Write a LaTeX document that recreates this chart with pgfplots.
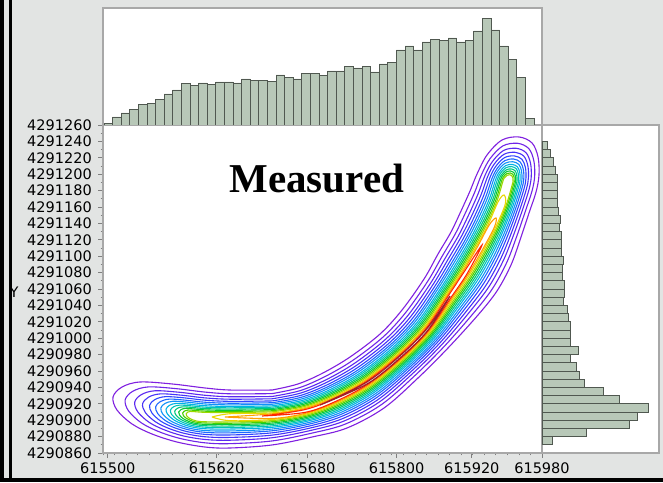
\documentclass[border=0pt]{standalone}
\usepackage{pgfplots}
\pgfplotsset{compat=1.18}
\usepackage{fontspec}
\setmainfont{DejaVu Sans}
\newfontfamily\titlefont{Liberation Serif}
\definecolor{bg}{RGB}{226,228,227}
\definecolor{histfill}{RGB}{184,200,184}
\definecolor{histdraw}{RGB}{80,88,80}
\definecolor{boxgray}{RGB}{168,168,168}
\definecolor{r1}{RGB}{128,32,224}
\definecolor{r2}{RGB}{112,36,232}
\definecolor{r3}{RGB}{92,40,240}
\definecolor{r4}{RGB}{70,50,248}
\definecolor{r5}{RGB}{48,70,255}
\definecolor{r6}{RGB}{30,105,255}
\definecolor{r7}{RGB}{16,145,248}
\definecolor{r8}{RGB}{0,178,228}
\definecolor{r9}{RGB}{0,196,185}
\definecolor{r10}{RGB}{0,200,125}
\definecolor{r11}{RGB}{10,200,55}
\definecolor{r12}{RGB}{70,208,0}
\definecolor{r13}{RGB}{155,215,0}
\definecolor{r14}{RGB}{232,215,0}
\definecolor{r15}{RGB}{255,160,0}
\definecolor{r16}{RGB}{255,40,0}
\definecolor{r17}{RGB}{160,30,40}
\pgfplotsset{ring/.style={smooth, tension=0.55, line width=1.1pt}}
\begin{document}
\begin{tikzpicture}
\fill[bg] (0pt,0pt) rectangle (663pt,482pt);
\fill[black] (0pt,0pt) rectangle (4pt,482pt);
\fill[black] (9pt,0pt) rectangle (12pt,482pt);
\fill[black] (0pt,0pt) rectangle (663pt,4pt);
\useasboundingbox (0pt,0pt) rectangle (663pt,482pt);

% main contour plot
\begin{axis}[
  at={(103pt,29pt)}, anchor=south west, scale only axis,
  width=439pt, height=328pt,
  xmin=615500, xmax=616048.75, ymin=4290860, ymax=4291260,
  axis background/.style={fill=white},
  axis line style={draw=boxgray, line width=1.2pt},
  tick align=outside, major tick length=5pt, minor tick length=2.5pt,
  tick style={draw=gray, line width=0.7pt},
  tick pos=left,
  xtick={615506,615642,615756,615867,615961,616048.75},
  xticklabels={615500,615620,615680,615800,615920,615980},
  minor xtick={615500,615514.44,615528.88,615543.32,615557.76,615572.2,615586.64,615601.08,615615.52,615629.96,615644.4,615658.84,615673.28,615687.72,615702.16,615716.6,615731.04,615745.48,615759.92,615774.36,615788.8,615803.24,615817.68,615832.12,615846.56,615861,615875.44,615889.88,615904.32,615918.76,615933.2,615947.64,615962.08,615976.52,615990.96,616005.4,616019.84,616034.28,616048.72},
  ytick={4290860,4290880,4290900,4290920,4290940,4290960,4290980,4291000,4291020,4291040,4291060,4291080,4291100,4291120,4291140,4291160,4291180,4291200,4291220,4291240,4291260},
  minor y tick num=1,
  scaled ticks=false,
  /pgf/number format/.cd, fixed, 1000 sep={}, precision=0, assume math mode=true, /pgfplots/.cd,
  tick label style={font=\fontsize{14.5}{16}\selectfont},
  yticklabel style={anchor=east, inner sep=1pt, xshift=-5pt},
  xticklabel style={anchor=north, inner sep=1pt, yshift=-4pt},
  ylabel={Y},
  every axis y label/.style={at={(rel axis cs:0,0.49)}, anchor=center, xshift=-89pt, font=\fontsize{14.5}{16}\selectfont},
  clip=true,
]
\addplot[ring, r1] coordinates {(615711.3,4290936.8) (615743.8,4290944.2) (615775,4290957.6) (615808.8,4290977.1) (615846.3,4291005.1) (615873.8,4291034.4) (615901.3,4291072.2) (615918.8,4291102.7) (615935,4291129.5) (615947.5,4291155.1) (615958.8,4291179.5) (615967.5,4291200.2) (615980,4291223.4) (615998.8,4291241.7) (616020,4291245.4) (616036.3,4291238.1) (616043.8,4291221) (616045,4291199) (616041.3,4291178.3) (616032.5,4291152.7) (616021.3,4291119.8) (616010,4291089.3) (615992.5,4291057.6) (615968.8,4291028.3) (615931.3,4290988.1) (615893.8,4290951.5) (615851.3,4290914.9) (615805,4290890.5) (615761.3,4290879.5) (615711.3,4290869.8) (615658.8,4290866.1) (615627.5,4290867.3) (615592.5,4290873.4) (615561.3,4290883.2) (615536.3,4290895.4) (615517.5,4290912.4) (615512.5,4290928.3) (615523.8,4290940.5) (615546.3,4290946.6) (615586.3,4290944.2) (615627.5,4290939.3) (615658.8,4290936.8) (615711.3,4290936.8)};
\addplot[ring, r2] coordinates {(615711.3,4290932.4) (615745,4290939.5) (615777.1,4290953) (615811.7,4290972.6) (615849.8,4291001.2) (615878.1,4291031) (615905.8,4291069.3) (615923.7,4291099.6) (615940.1,4291126.8) (615952.9,4291152.6) (615964.4,4291177.5) (615972.9,4291198.9) (615983.7,4291218.8) (615999.8,4291234.5) (616018.1,4291237.7) (616032.1,4291231.4) (616038.5,4291216.7) (616039.6,4291197.8) (616036.4,4291180) (616027.8,4291154.4) (616016.4,4291122.1) (616004.6,4291092.2) (615987.1,4291060.8) (615963.9,4291031.5) (615927.6,4290991.1) (615890.6,4290955.1) (615848.3,4290919.2) (615802.9,4290895.3) (615760,4290884) (615711.3,4290874.7) (615658.8,4290871.4) (615627.5,4290872.4) (615596.5,4290877.7) (615569.7,4290886.1) (615548.2,4290896.6) (615532,4290911.2) (615527.7,4290924.9) (615537.4,4290935.4) (615556.8,4290940.6) (615591.2,4290938.5) (615627.5,4290934.3) (615658.8,4290932.2) (615711.3,4290932.4)};
\addplot[ring, r3] coordinates {(615711.3,4290928.9) (615745.9,4290935.9) (615778.8,4290949.3) (615814.1,4290969.2) (615852.5,4290998.1) (615881.6,4291028.3) (615909.4,4291067) (615927.5,4291097.2) (615944.1,4291124.6) (615957.2,4291150.6) (615968.8,4291175.9) (615977.2,4291197.8) (615986.6,4291215.2) (616000.6,4291228.9) (616016.6,4291231.6) (616028.8,4291226.2) (616034.4,4291213.4) (616035.3,4291196.9) (616032.5,4291181.3) (616024.1,4291155.7) (616012.5,4291124) (616000.3,4291094.5) (615982.8,4291063.4) (615960,4291034.1) (615924.7,4290993.5) (615888.1,4290957.9) (615845.9,4290922.5) (615801.3,4290899) (615759.1,4290887.4) (615711.3,4290878.6) (615658.8,4290875.6) (615627.5,4290876.5) (615599.7,4290881) (615576.3,4290888.4) (615557.5,4290897.5) (615543.4,4290910.3) (615539.7,4290922.2) (615548.1,4290931.3) (615565,4290935.9) (615595,4290934.1) (615627.5,4290930.4) (615658.8,4290928.6) (615711.3,4290928.9)};
\addplot[ring, r4] coordinates {(615711.3,4290926.1) (615746.7,4290933) (615780.1,4290946.4) (615816,4290966.3) (615854.8,4290995.6) (615884.4,4291026.1) (615912.3,4291065.1) (615930.7,4291095.2) (615947.3,4291122.9) (615960.7,4291148.9) (615972.4,4291174.5) (615980.7,4291196.9) (615988.9,4291212.2) (616001.3,4291224.3) (616015.3,4291226.7) (616026.1,4291221.9) (616031,4291210.6) (616031.8,4291196.1) (616029.4,4291182.4) (616021,4291156.8) (616009.4,4291125.6) (615996.8,4291096.3) (615979.3,4291065.4) (615956.9,4291036.2) (615922.3,4290995.5) (615886.1,4290960.2) (615844,4290925.3) (615799.9,4290902.1) (615758.3,4290890.3) (615711.3,4290881.8) (615658.8,4290879) (615627.5,4290879.8) (615602.3,4290883.8) (615581.7,4290890.2) (615565.2,4290898.3) (615552.8,4290909.5) (615549.5,4290920) (615556.9,4290928.1) (615571.8,4290932.1) (615598.2,4290930.5) (615627.5,4290927.2) (615658.8,4290925.6) (615711.3,4290926.1)};
\addplot[ring, r5] coordinates {(615711.3,4290923.5) (615747.4,4290930.3) (615781.3,4290943.7) (615817.7,4290963.8) (615856.8,4290993.3) (615886.9,4291024.2) (615914.9,4291063.5) (615933.5,4291093.5) (615950.2,4291121.3) (615963.8,4291147.4) (615975.6,4291173.4) (615983.8,4291196.2) (615991,4291209.6) (616001.9,4291220.2) (616014.2,4291222.3) (616023.7,4291218.1) (616028,4291208.2) (616028.7,4291195.4) (616026.6,4291183.4) (616018.3,4291157.8) (616006.6,4291126.9) (615993.7,4291098) (615976.2,4291067.3) (615954.1,4291038) (615920.2,4290997.3) (615884.3,4290962.2) (615842.3,4290927.7) (615798.7,4290904.8) (615757.6,4290892.8) (615711.3,4290884.6) (615658.8,4290882) (615627.5,4290882.7) (615604.6,4290886.2) (615586.5,4290891.9) (615572,4290899) (615561.1,4290908.9) (615558.2,4290918.1) (615564.7,4290925.1) (615577.8,4290928.7) (615601,4290927.3) (615627.5,4290924.4) (615658.8,4290923) (615711.3,4290923.5)};
\addplot[ring, r6] coordinates {(615711.3,4290921.3) (615748,4290928) (615782.4,4290941.4) (615819.2,4290961.5) (615858.5,4290991.4) (615889.1,4291022.4) (615917.2,4291062) (615935.9,4291091.9) (615952.8,4291120) (615966.5,4291146.2) (615978.4,4291172.3) (615986.5,4291195.5) (615992.9,4291207.3) (616002.4,4291216.6) (616013.3,4291218.5) (616021.6,4291214.8) (616025.4,4291206) (616026,4291194.8) (616024.1,4291184.3) (616016,4291158.7) (616004.1,4291128.1) (615991,4291099.4) (615973.5,4291068.9) (615951.6,4291039.6) (615918.4,4290998.8) (615882.7,4290964) (615840.8,4290929.8) (615797.7,4290907.2) (615757,4290895.1) (615711.3,4290887.1) (615658.8,4290884.6) (615627.5,4290885.2) (615606.6,4290888.4) (615590.7,4290893.3) (615577.9,4290899.6) (615568.3,4290908.3) (615565.8,4290916.3) (615571.5,4290922.6) (615583,4290925.7) (615603.4,4290924.4) (615627.5,4290921.9) (615658.8,4290920.7) (615711.3,4290921.3)};
\addplot[ring, r7] coordinates {(615711.3,4290919.4) (615748.6,4290926) (615783.3,4290939.5) (615820.4,4290959.6) (615860,4290989.7) (615890.9,4291021) (615919.1,4291060.8) (615938,4291090.6) (615954.9,4291118.8) (615968.8,4291145.1) (615980.8,4291171.5) (615988.8,4291194.9) (615994.4,4291205.3) (616002.9,4291213.5) (616012.4,4291215.2) (616019.8,4291211.9) (616023.1,4291204.2) (616023.7,4291194.3) (616022,4291185) (616013.9,4291159.4) (616002,4291129.1) (615988.7,4291100.7) (615971.2,4291070.3) (615949.5,4291041) (615916.8,4291000.1) (615881.4,4290965.6) (615839.6,4290931.7) (615796.8,4290909.3) (615756.4,4290897) (615711.3,4290889.2) (615658.8,4290886.9) (615627.5,4290887.4) (615608.3,4290890.2) (615594.3,4290894.6) (615583,4290900.1) (615574.6,4290907.7) (615572.3,4290914.9) (615577.4,4290920.4) (615587.5,4290923.1) (615605.5,4290922) (615627.5,4290919.8) (615658.8,4290918.7) (615711.3,4290919.4)};
\addplot[ring, r8] coordinates {(615711.3,4290917.5) (615749.1,4290924.1) (615784.2,4290937.5) (615821.7,4290957.7) (615861.5,4290988) (615892.8,4291019.5) (615921.1,4291059.5) (615940.1,4291089.3) (615957.1,4291117.6) (615971.1,4291144) (615983.2,4291170.6) (615991.1,4291194.3) (615996,4291203.3) (616003.3,4291210.5) (616011.6,4291211.9) (616018,4291209) (616020.9,4291202.4) (616021.4,4291193.8) (616019.9,4291185.7) (616011.9,4291160.1) (615999.9,4291130.2) (615986.4,4291101.9) (615968.9,4291071.7) (615947.4,4291042.4) (615915.2,4291001.4) (615880,4290967.1) (615838.3,4290933.5) (615795.9,4290911.3) (615755.9,4290898.9) (615711.3,4290891.3) (615658.8,4290889.2) (615627.5,4290889.6) (615610,4290892) (615597.9,4290895.8) (615588.1,4290900.6) (615580.8,4290907.2) (615578.8,4290913.4) (615583.2,4290918.2) (615592,4290920.6) (615607.6,4290919.6) (615627.5,4290917.7) (615658.8,4290916.7) (615711.3,4290917.5)};
\addplot[ring, r9] coordinates {(615711.3,4290915.9) (615749.5,4290922.4) (615784.9,4290935.8) (615822.8,4290956.2) (615862.8,4290986.6) (615894.4,4291018.3) (615922.7,4291058.5) (615941.9,4291088.2) (615958.9,4291116.6) (615973.1,4291143.1) (615985.2,4291169.9) (615993.1,4291193.8) (615997.3,4291201.7) (616003.7,4291207.9) (616010.9,4291209.2) (616016.5,4291206.7) (616019,4291200.9) (616019.4,4291193.4) (616018.2,4291186.3) (616010.2,4291160.7) (615998.2,4291131) (615984.4,4291103) (615966.9,4291072.9) (615945.7,4291043.6) (615913.9,4291002.5) (615878.9,4290968.4) (615837.2,4290935) (615795.1,4290913) (615755.5,4290900.4) (615711.3,4290893.1) (615658.8,4290891.1) (615627.5,4290891.5) (615611.5,4290893.5) (615600.9,4290896.9) (615592.4,4290901) (615586,4290906.8) (615584.3,4290912.2) (615588.1,4290916.3) (615595.8,4290918.4) (615609.4,4290917.6) (615627.5,4290915.9) (615658.8,4290915.1) (615711.3,4290915.9)};
\addplot[ring, r10] coordinates {(615711.3,4290914.3) (615750,4290920.8) (615785.7,4290934.2) (615823.8,4290954.6) (615864,4290985.2) (615895.9,4291017.1) (615924.3,4291057.5) (615943.6,4291087.1) (615960.7,4291115.7) (615975,4291142.1) (615987.2,4291169.1) (615995,4291193.3) (615998.6,4291200) (616004.1,4291205.3) (616010.2,4291206.4) (616015,4291204.3) (616017.1,4291199.3) (616017.5,4291193) (616016.4,4291187) (616008.5,4291161.3) (615996.4,4291131.9) (615982.5,4291104) (615965,4291074) (615943.9,4291044.7) (615912.6,4291003.6) (615877.8,4290969.6) (615836.2,4290936.5) (615794.4,4290914.7) (615755,4290902) (615711.3,4290894.9) (615658.8,4290892.9) (615627.5,4290893.3) (615612.9,4290895.1) (615603.9,4290897.9) (615596.6,4290901.4) (615591.2,4290906.4) (615589.7,4290911) (615593,4290914.5) (615599.5,4290916.3) (615611.1,4290915.6) (615627.5,4290914.2) (615658.8,4290913.5) (615711.3,4290914.3)};
\addplot[ring, r11] coordinates {(615711.3,4290912.9) (615750.4,4290919.3) (615786.3,4290932.7) (615824.8,4290953.1) (615865.1,4290983.9) (615897.3,4291016) (615925.8,4291056.5) (615945.2,4291086.1) (615962.4,4291114.8) (615976.8,4291141.3) (615989,4291168.5) (615996.8,4291192.9) (615999.8,4291198.6) (616004.4,4291203) (616009.6,4291203.9) (616013.6,4291202.1) (616015.4,4291198) (616015.7,4291192.6) (616014.8,4291187.5) (616007,4291161.9) (615994.8,4291132.7) (615980.7,4291104.9) (615963.2,4291075.1) (615942.3,4291045.8) (615911.4,4291004.6) (615876.8,4290970.8) (615835.2,4290937.9) (615793.7,4290916.3) (615754.6,4290903.5) (615711.3,4290896.5) (615658.8,4290894.6) (615627.5,4290894.9) (615614.2,4290896.4) (615606.6,4290898.8) (615600.4,4290901.8) (615595.8,4290906) (615594.6,4290909.9) (615597.4,4290912.9) (615602.9,4290914.4) (615612.7,4290913.8) (615627.5,4290912.6) (615658.8,4290912) (615711.3,4290912.9)};
\addplot[ring, r12] coordinates {(615711.3,4290911.5) (615750.8,4290917.8) (615787,4290931.2) (615825.8,4290951.7) (615866.3,4290982.7) (615898.8,4291014.9) (615927.3,4291055.6) (615946.8,4291085.1) (615964,4291113.9) (615978.5,4291140.5) (615990.8,4291167.8) (615998.5,4291192.4) (616001,4291197.1) (616004.8,4291200.7) (616009,4291201.5) (616012.3,4291200) (616013.8,4291196.6) (616014,4291192.2) (616013.3,4291188.1) (616005.5,4291162.4) (615993.3,4291133.4) (615979,4291105.9) (615961.5,4291076.1) (615940.8,4291046.8) (615910.3,4291005.6) (615875.8,4290972) (615834.3,4290939.3) (615793,4290917.8) (615754.3,4290904.9) (615711.3,4290898.1) (615658.8,4290896.3) (615627.5,4290896.6) (615615.5,4290897.8) (615609.3,4290899.8) (615604.3,4290902.2) (615600.5,4290905.6) (615599.5,4290908.8) (615601.8,4290911.2) (615606.3,4290912.4) (615614.3,4290912) (615627.5,4290911) (615658.8,4290910.5) (615711.3,4290911.5)};
\addplot[ring, r13] coordinates {(615711.3,4290910.2) (615751.1,4290916.5) (615787.6,4290929.9) (615826.6,4290950.4) (615867.3,4290981.6) (615900,4291013.9) (615928.6,4291054.8) (615948.2,4291084.2) (615965.5,4291113.1) (615980.1,4291139.8) (615992.4,4291167.2) (616000.1,4291192.1) (616002.1,4291195.8) (616005.1,4291198.7) (616008.5,4291199.3) (616011.1,4291198.1) (616012.3,4291195.4) (616012.5,4291191.9) (616011.9,4291188.5) (616004.2,4291162.9) (615991.9,4291134.1) (615977.5,4291106.7) (615960,4291077) (615939.4,4291047.8) (615909.2,4291006.5) (615874.9,4290973) (615833.4,4290940.5) (615792.4,4290919.2) (615753.9,4290906.2) (615711.3,4290899.5) (615658.8,4290897.9) (615627.5,4290898.1) (615616.7,4290899) (615611.7,4290900.6) (615607.7,4290902.5) (615604.7,4290905.3) (615603.9,4290907.8) (615605.7,4290909.8) (615609.3,4290910.7) (615615.7,4290910.3) (615627.5,4290909.6) (615658.8,4290909.2) (615711.3,4290910.2)};
\addplot[ring, r14] coordinates {(615636.3,4290903.9) (615658.8,4290907.9) (615711.3,4290908.9) (615751.5,4290915.2) (615788.2,4290928.6) (615827.5,4290949.2) (615868.3,4290980.4) (615901.3,4291012.9) (615929.9,4291054) (615949.6,4291083.4) (615966.9,4291112.3) (615981.6,4291139) (615994,4291166.6) (616001.3,4291174.6) (616002.8,4291163.4) (615990.5,4291134.8) (615975.9,4291107.5) (615958.4,4291078) (615938,4291048.7) (615908.2,4291007.4) (615874,4290974) (615832.6,4290941.7) (615791.8,4290920.5) (615753.6,4290907.4) (615711.3,4290900.9) (615658.8,4290899.4) (615636.3,4290903.9)};
\addplot[ring, r15] coordinates {(615652.5,4290903.9) (615711.3,4290907.8) (615751.8,4290914) (615788.7,4290927.4) (615828.2,4290948.1) (615869.1,4290979.5) (615902.3,4291012.1) (615931,4291053.2) (615950.8,4291082.6) (615968.2,4291111.7) (615983,4291138.4) (615991.3,4291146.6) (615989.2,4291135.4) (615974.5,4291108.2) (615957,4291078.8) (615936.7,4291049.5) (615907.2,4291008.1) (615873.2,4290974.9) (615831.8,4290942.8) (615791.3,4290921.7) (615753.2,4290908.5) (615711.3,4290902.1) (615652.5,4290903.9)};
\addplot[ring, r16] coordinates {(615698.8,4290905.1) (615752.1,4290912.9) (615789.3,4290926.3) (615828.9,4290947) (615870,4290978.5) (615903.4,4291011.2) (615932.1,4291052.5) (615952,4291081.8) (615973.8,4291113.7) (615955.7,4291079.6) (615935.5,4291050.3) (615906.3,4291008.9) (615872.4,4290975.8) (615831.1,4290943.9) (615790.8,4290922.9) (615752.9,4290909.6) (615698.8,4290905.1)};
\addplot[ring, r17] coordinates {(615771.3,4290918.5) (615829.4,4290946.3) (615870.5,4290977.9) (615904.1,4291010.7) (615933.8,4291051.5) (615905.8,4291009.3) (615871.9,4290976.3) (615830.6,4290944.5) (615771.3,4290918.5)};
\node[font=\titlefont\bfseries\fontsize{41}{41}\selectfont] at (rel axis cs:0.487,0.838) {Measured};
\end{axis}

% top histogram
\begin{axis}[
  at={(103pt,357pt)}, anchor=south west, scale only axis,
  width=439pt, height=117pt,
  xmin=615500, xmax=616048.75, ymin=0, ymax=117,
  axis background/.style={fill=white},
  axis line style={draw=boxgray, line width=1.2pt},
  xtick=\empty, ytick=\empty,
]
\addplot[ybar interval, fill=histfill, draw=histdraw, line width=0.8pt] coordinates {(615501.25,1.7) (615512,8) (615522.75,12) (615533.5,15.7) (615544.25,20.3) (615555,21.7) (615565.75,25.7) (615576.5,31) (615587.25,35) (615598,41.7) (615608.75,39.3) (615619.5,42) (615630.25,40.7) (615641,43) (615651.75,43) (615662.5,42) (615673.25,46) (615684,44.7) (615694.75,44.7) (615705.5,43.3) (615716.25,50) (615727,47.7) (615737.75,46) (615748.5,51.3) (615759.25,51.3) (615770,49.7) (615780.75,54) (615791.5,54) (615802.25,58.3) (615813,57) (615823.75,58.3) (615834.5,53) (615845.25,61) (615856,62.3) (615866.75,75) (615877.5,79) (615888.25,75) (615899,83) (615909.75,85.7) (615920.5,84.3) (615931.25,87) (615942,83) (615952.75,84.3) (615963.5,94) (615974.25,106.3) (615985,95) (615995.75,79) (616006.5,65.7) (616017.25,47.3) (616028,6.3) (616038.75,6.3)};
\end{axis}

% right histogram
\begin{axis}[
  at={(542pt,29pt)}, anchor=south west, scale only axis,
  width=117pt, height=328pt,
  xmin=0, xmax=117, ymin=4290860, ymax=4291260,
  axis background/.style={fill=white},
  axis line style={draw=boxgray, line width=1.2pt},
  xtick=\empty, ytick=\empty,
]
\addplot[xbar interval, fill=histfill, draw=histdraw, line width=0.8pt] coordinates {(10,4290870) (44.3,4290880) (87,4290890) (95,4290900) (106,4290910) (77,4290920) (61,4290930) (42.7,4290940) (37,4290950) (34.7,4290960) (28.7,4290970) (36,4290980) (28.7,4290990) (28.7,4291000) (28.7,4291010) (26,4291020) (25,4291030) (21,4291040) (22,4291050) (22,4291060) (20.3,4291070) (20.7,4291080) (21,4291090) (19.3,4291100) (19,4291110) (19.3,4291120) (17,4291130) (18,4291140) (16.7,4291150) (15.3,4291160) (15,4291170) (15,4291180) (15,4291190) (13.7,4291200) (11,4291210) (8.3,4291220) (5,4291230) (5,4291240)};
\end{axis}
\end{tikzpicture}
\end{document}
